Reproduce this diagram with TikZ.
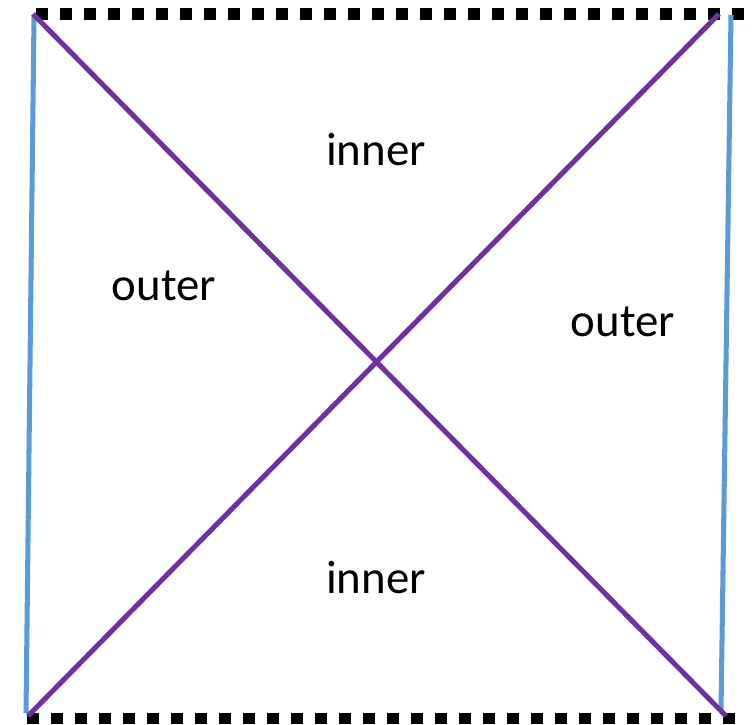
\documentclass[tikz,border=0pt]{standalone}
\usepackage{fontspec}
\setmainfont{Carlito}
\usepackage{xcolor}
\usetikzlibrary{calc}
\definecolor{diag}{HTML}{7030A0}
\definecolor{side}{HTML}{5B9BD5}

\begin{document}
\begin{tikzpicture}[
    x=0.03cm, y=-0.03cm,
    diagline/.style={line width=4.3pt, diag},
    sideline/.style={line width=4.3pt, side},
    horizon/.style={line width=9.4pt, black, dash pattern=on 0.36cm off 0.36cm},
    region/.style={font=\fontsize{40}{48}\selectfont, inner sep=0pt}
  ]
    \useasboundingbox (0,0) rectangle (754,724);

    % corners
    \coordinate (tl) at (33,14);
    \coordinate (tr) at (719,14);
    \coordinate (bl) at (28,716);
    \coordinate (br) at (726,716);

    % dotted top and bottom edges
    \coordinate (tstart) at (36,14);
    \coordinate (tend) at (745,14);
    \coordinate (bstart) at (27,718);
    \coordinate (bend) at (735,718);
    \draw[horizon] (tstart) -- (tend);
    \draw[horizon] (bstart) -- (bend);

    % blue side edges
    \coordinate (ltop) at (34,17);
    \coordinate (lbot) at (26,713);
    \coordinate (rtop) at (731,15);
    \coordinate (rbot) at (721,711);
    \draw[sideline] (ltop) -- (lbot);
    \draw[sideline] (rtop) -- (rbot);

    % diagonals
    \draw[diagline] (tl) -- (br);
    \draw[diagline] (bl) -- (tr);

    % labels
    \node[region] (innertop) at (376,150) {inner};
    \node[region] (outerleft) at (164,286) {outer};
    \node[region] (outerright) at (623,322) {outer};
    \node[region] (innerbot) at (376,578) {inner};
\end{tikzpicture}
\end{document}
